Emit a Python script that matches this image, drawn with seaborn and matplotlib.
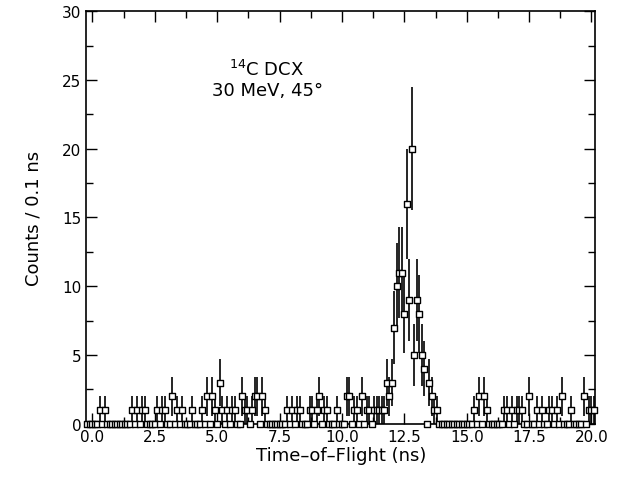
import numpy as np
import pandas as pd
import matplotlib
matplotlib.use("Agg")
import matplotlib.pyplot as plt
import seaborn as sns
from matplotlib.ticker import MultipleLocator, FormatStrFormatter

# 0.1 ns time-of-flight bins, only the non-empty ones are listed
bin_start = -0.2
bin_stop = 20.1
bin_width = 0.1

hit_times = [0.3, 0.5,
             1.6, 1.8, 2.0, 2.1, 2.6, 2.8, 2.9, 3.2, 3.4, 3.6, 4.0, 4.4,
             4.6, 4.8, 4.9, 5.1, 5.2, 5.4, 5.6, 5.7, 6.0, 6.1, 6.2, 6.4,
             6.5, 6.6, 6.8, 6.9,
             7.8, 8.0, 8.2, 8.3, 8.7, 8.8, 9.0, 9.1, 9.3, 9.4, 9.8,
             10.2, 10.3, 10.5, 10.6, 10.8, 11.0, 11.1, 11.3, 11.4, 11.5, 11.6, 11.7,
             11.8, 11.9, 12.0, 12.1, 12.2, 12.3, 12.4, 12.5, 12.6, 12.7, 12.8,
             12.9, 13.0, 13.1, 13.2, 13.3, 13.5, 13.6, 13.7, 13.8,
             15.3, 15.5, 15.7, 15.8,
             16.5, 16.6, 16.8, 17.0, 17.1, 17.2, 17.5, 17.8, 18.0,
             18.3, 18.4, 18.6, 18.8, 19.2, 19.7, 19.9, 20.0, 20.1]
hit_counts = [1, 1,
              1, 1, 1, 1, 1, 1, 1, 2, 1, 1, 1, 1,
              2, 2, 1, 3, 1, 1, 1, 1, 2, 1, 1, 1,
              2, 2, 2, 1,
              1, 1, 1, 1, 1, 1, 1, 2, 1, 1, 1,
              2, 2, 1, 1, 2, 1, 1, 1, 1, 1, 1, 1,
              3, 2, 3, 7, 10, 11, 11, 8, 16, 9, 20,
              5, 9, 8, 5, 4, 3, 2, 1, 1,
              1, 2, 2, 1,
              1, 1, 1, 1, 1, 1, 2, 1, 1,
              1, 1, 1, 2, 1, 2, 1, 1, 1]

label_line1 = r"$^{\mathregular{14}}$C DCX"
label_line2 = "30 MeV, 45°"

# build the full histogram table
tof = np.round(np.arange(bin_start, bin_stop + bin_width / 2, bin_width), 1)
counts = pd.Series(0, index=tof)
for t, c in zip(hit_times, hit_counts):
    counts[round(t, 1)] = c
df = pd.DataFrame({"tof": tof, "counts": counts.values})
df["err"] = np.sqrt(df["counts"])

sns.set_style("ticks")
plt.rcParams["font.family"] = ["DejaVu Sans"]
plt.rcParams["text.color"] = "black"
plt.rcParams["axes.labelcolor"] = "black"

fig = plt.figure(figsize=(6.2, 4.85), dpi=100)
ax = fig.add_axes([0.139, 0.124, 0.821, 0.851])

# sqrt(N) error bars plus the bin width
ax.errorbar(df["tof"], df["counts"], yerr=df["err"], xerr=bin_width / 2,
            fmt="none", ecolor="black", elinewidth=1.2, capsize=0,
            clip_on=False, zorder=2)
sns.scatterplot(data=df, x="tof", y="counts", marker="s", s=14,
                facecolor="white", edgecolor="black", linewidth=1.0,
                ax=ax, zorder=3, clip_on=False, legend=False)

ax.set_xlim(-0.25, 20.15)
ax.set_ylim(0, 30)
ax.xaxis.set_major_locator(MultipleLocator(2.5))
ax.xaxis.set_minor_locator(MultipleLocator(1.25))
ax.xaxis.set_major_formatter(FormatStrFormatter("%.1f"))
ax.yaxis.set_major_locator(MultipleLocator(5))
ax.yaxis.set_minor_locator(MultipleLocator(2.5))
ax.tick_params(which="both", direction="in", top=True, right=True,
               labelsize=11, width=1, colors="black")
ax.tick_params(which="major", length=8)
ax.tick_params(which="minor", length=5)
for sp in ax.spines.values():
    sp.set_linewidth(1.2)
    sp.set_color("black")

ax.set_xlabel("Time–of–Flight (ns)", fontsize=13, labelpad=2)
ax.set_ylabel("Counts / 0.1 ns", fontsize=13, labelpad=14)

ax.text(7.0, 25.8, label_line1, ha="center", va="center", fontsize=13)
ax.text(7.0, 24.3, label_line2, ha="center", va="center", fontsize=13)

fig.savefig("out.png", dpi=100)
